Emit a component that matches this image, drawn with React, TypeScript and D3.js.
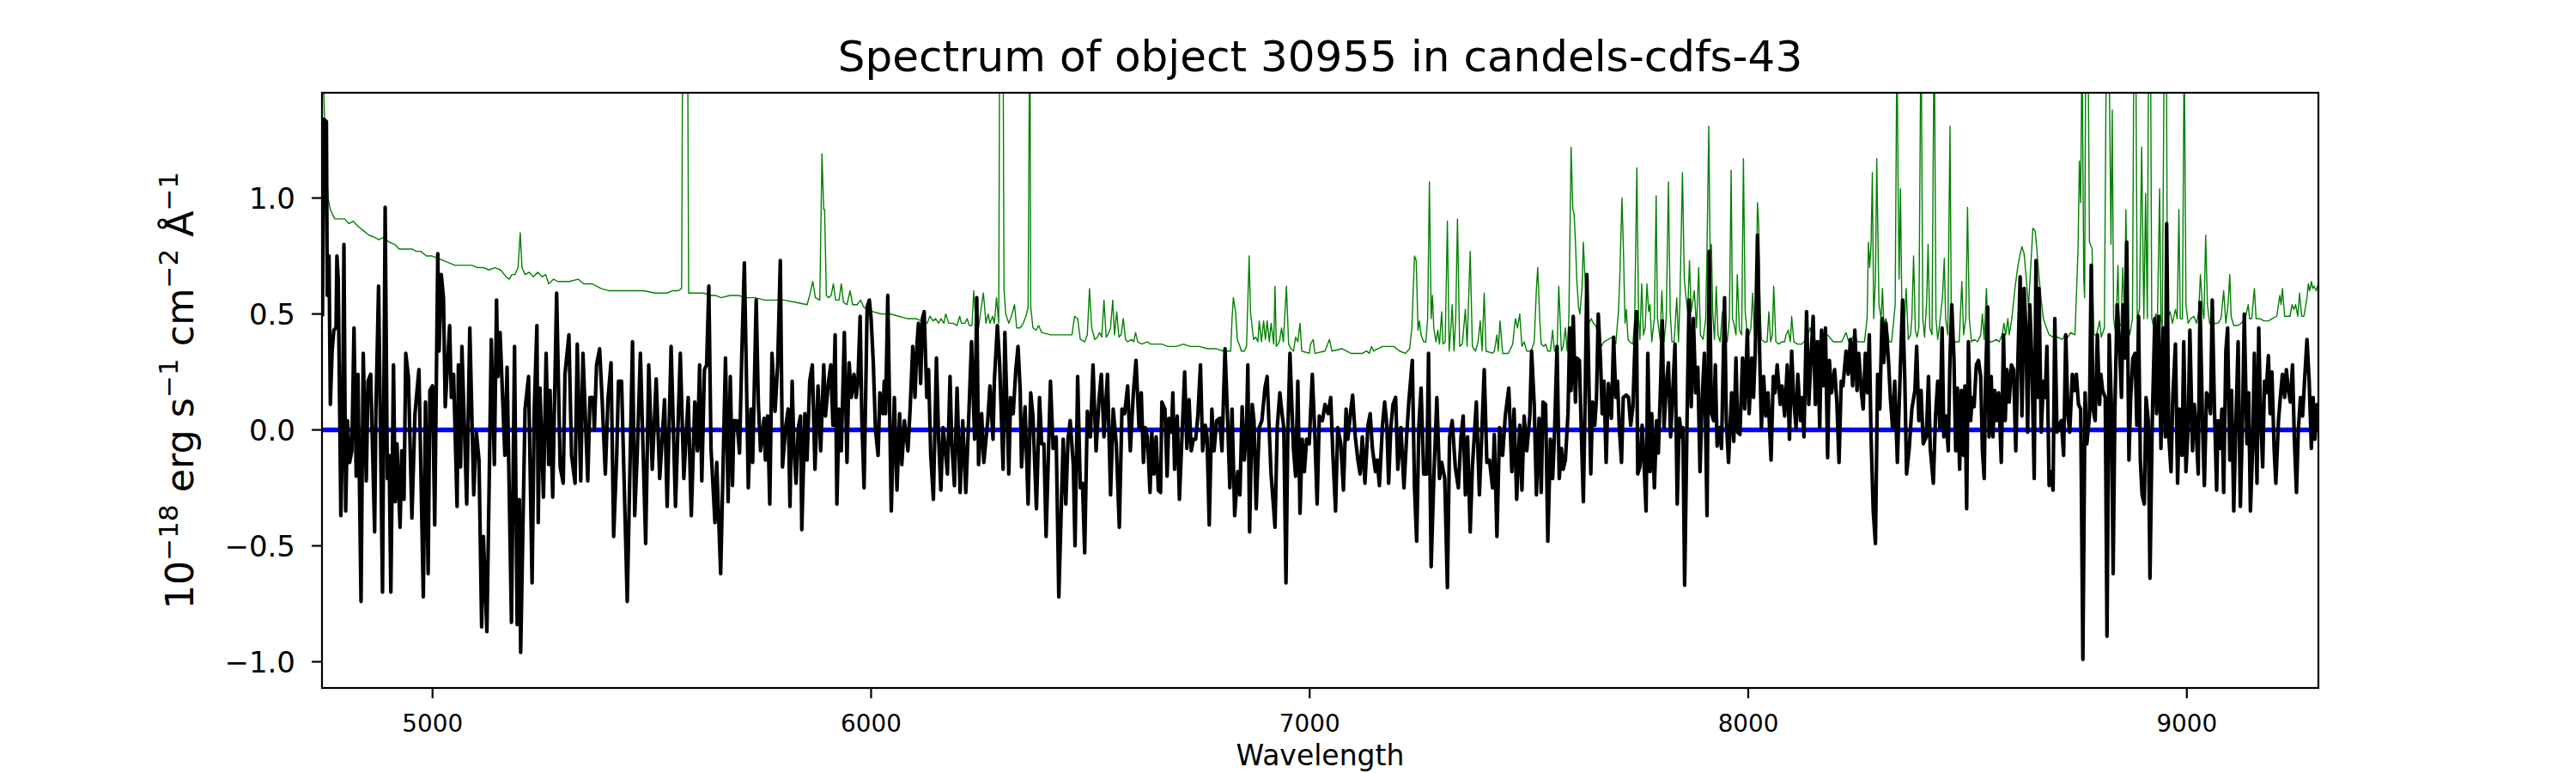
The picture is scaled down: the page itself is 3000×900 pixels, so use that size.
import React, { useEffect } from 'react';
import * as d3 from 'd3';

// Observed spectrum: [wavelength (Å), flux (1e-18 erg/s/cm2/Å)]
const spectrum: [number, number][] = [
[4749,0.49],[4752,1.34],[4758,1.33],[4760,0.58],[4764,0.75],[4767,0.11],[4771,0.34],[4775,0.43],[4780,0.44],[4782,0.75],
[4785,0.65],[4791,-0.37],[4795,0.02],[4798,0.80],[4802,-0.35],[4806,0.04],[4811,-0.14],[4816,-0.09],[4821,0.44],[4826,-0.20],
[4830,0.24],[4837,-0.74],[4842,0.33],[4849,-0.22],[4853,0.21],[4859,0.24],[4868,-0.44],[4871,0.09],[4877,0.62],[4886,-0.70],
[4892,0.96],[4897,-0.21],[4901,-0.11],[4905,-0.70],[4911,0.28],[4915,-0.31],[4919,-0.06],[4926,-0.42],[4930,-0.09],[4935,-0.30],
[4939,0.33],[4945,0.23],[4953,-0.38],[4960,0.07],[4969,0.26],[4979,-0.72],[4984,0.12],[4990,-0.62],[4994,0.17],[5000,0.19],
[5005,-0.41],[5012,0.76],[5015,0.34],[5020,0.67],[5025,0.57],[5029,0.10],[5039,0.45],[5043,0.14],[5048,0.24],[5056,-0.33],
[5059,0.28],[5064,-0.16],[5067,0.36],[5078,-0.32],[5085,0.44],[5094,-0.28],[5100,-0.01],[5106,-0.13],[5112,-0.85],[5116,-0.46],
[5124,-0.87],[5129,-0.25],[5134,0.39],[5141,-0.15],[5146,0.56],[5149,0.23],[5154,0.42],[5165,-0.11],[5170,0.27],[5180,-0.83],
[5187,0.36],[5193,-0.84],[5198,-0.30],[5201,-0.96],[5211,0.09],[5219,0.23],[5227,-0.66],[5232,0.09],[5238,0.45],[5241,-0.40],
[5245,0.18],[5253,-0.29],[5259,0.33],[5265,-0.15],[5268,0.17],[5274,-0.29],[5283,0.59],[5291,-0.16],[5298,-0.23],[5302,0.24],
[5311,0.41],[5317,-0.11],[5325,-0.23],[5330,0.37],[5338,-0.22],[5343,0.33],[5354,-0.22],[5359,0.14],[5366,0.14],[5369,0.00],
[5374,0.28],[5381,0.35],[5387,0.12],[5394,-0.19],[5400,0.13],[5407,0.29],[5413,-0.46],[5420,-0.11],[5424,0.21],[5431,0.21],
[5444,-0.74],[5456,0.38],[5461,-0.37],[5467,-0.09],[5474,0.33],[5486,-0.49],[5493,0.28],[5501,-0.17],[5510,0.22],[5518,-0.21],
[5529,0.13],[5535,-0.33],[5544,0.36],[5554,-0.33],[5565,0.33],[5573,-0.21],[5583,0.14],[5590,-0.37],[5598,0.12],[5604,-0.09],
[5609,0.28],[5614,-0.22],[5620,0.26],[5625,0.28],[5630,0.62],[5635,-0.08],[5644,-0.40],[5648,-0.14],[5657,-0.62],[5668,0.31],
[5674,-0.31],[5679,0.23],[5684,-0.24],[5687,0.04],[5694,0.04],[5700,-0.10],[5705,0.31],[5711,0.72],[5715,0.31],[5720,-0.25],
[5726,0.09],[5730,-0.14],[5738,0.56],[5743,0.11],[5748,-0.09],[5756,0.05],[5759,-0.13],[5764,0.06],[5769,-0.32],[5774,0.33],
[5781,0.08],[5787,0.28],[5793,0.73],[5798,-0.16],[5805,0.01],[5811,0.09],[5815,-0.33],[5820,0.21],[5824,-0.08],[5829,-0.23],
[5834,0.01],[5839,0.06],[5842,-0.43],[5849,0.07],[5854,-0.13],[5860,0.21],[5866,0.28],[5872,-0.17],[5879,0.19],[5885,-0.09],
[5892,0.28],[5896,0.06],[5903,0.21],[5908,0.28],[5913,0.02],[5918,0.41],[5922,-0.32],[5927,0.09],[5932,-0.09],[5939,0.42],
[5945,-0.14],[5950,0.29],[5955,0.14],[5961,0.24],[5966,0.14],[5970,0.21],[5975,0.49],[5979,0.04],[5984,-0.25],[5991,0.53],
[5996,0.56],[6000,0.48],[6005,0.29],[6010,0.00],[6016,-0.11],[6020,0.16],[6027,0.07],[6030,0.21],[6033,0.07],[6038,0.58],
[6046,-0.35],[6053,0.14],[6059,-0.26],[6065,0.07],[6070,-0.15],[6076,0.04],[6084,-0.09],[6089,0.09],[6095,0.36],[6100,0.14],
[6105,0.38],[6108,0.46],[6113,0.20],[6117,0.48],[6121,0.51],[6127,0.14],[6131,0.26],[6136,-0.11],[6142,-0.30],[6149,0.31],
[6154,-0.04],[6159,-0.26],[6164,0.01],[6168,-0.06],[6174,-0.19],[6180,0.23],[6184,-0.06],[6190,-0.24],[6196,0.18],[6203,-0.27],
[6209,0.04],[6216,-0.27],[6221,-0.03],[6229,0.38],[6236,-0.04],[6241,0.57],[6245,-0.15],[6252,0.07],[6257,-0.14],[6262,-0.04],
[6266,0.04],[6271,0.19],[6278,-0.04],[6281,0.21],[6288,0.45],[6293,0.29],[6301,-0.17],[6305,0.42],[6314,-0.19],[6318,0.14],
[6324,0.07],[6330,0.26],[6335,0.36],[6340,0.17],[6343,-0.16],[6351,0.10],[6358,-0.32],[6364,0.16],[6369,0.06],[6377,-0.34],
[6384,0.14],[6389,-0.06],[6394,-0.06],[6399,-0.46],[6409,0.21],[6415,-0.08],[6422,-0.03],[6428,-0.72],[6438,-0.04],[6444,-0.32],
[6449,-0.04],[6454,0.04],[6461,-0.15],[6465,-0.50],[6471,0.23],[6477,-0.25],[6482,-0.23],[6487,-0.53],[6493,0.08],[6500,-0.03],
[6506,0.28],[6513,-0.09],[6520,0.14],[6525,0.24],[6531,-0.03],[6539,0.24],[6546,-0.28],[6552,0.09],[6559,-0.06],[6566,-0.42],
[6572,0.09],[6578,0.07],[6585,0.19],[6591,-0.09],[6598,0.16],[6604,0.30],[6611,0.01],[6616,0.16],[6621,-0.14],[6625,0.01],
[6630,-0.03],[6636,-0.27],[6640,-0.01],[6645,-0.19],[6650,-0.03],[6655,-0.26],[6660,-0.27],[6663,0.12],[6670,0.09],[6675,-0.20],
[6679,0.05],[6685,-0.01],[6688,0.16],[6692,-0.17],[6698,0.06],[6703,-0.30],[6709,-0.02],[6715,0.25],[6720,-0.08],[6725,0.13],
[6730,-0.09],[6735,-0.04],[6740,-0.04],[6745,0.06],[6751,0.28],[6756,-0.09],[6762,0.02],[6766,-0.03],[6771,-0.41],[6777,0.09],
[6782,-0.09],[6788,0.04],[6795,0.05],[6800,-0.09],[6807,0.35],[6813,0.04],[6818,-0.25],[6823,0.09],[6829,-0.37],[6836,-0.18],
[6841,-0.28],[6846,0.10],[6851,-0.13],[6856,0.01],[6859,0.28],[6863,-0.44],[6869,0.11],[6873,0.04],[6878,-0.34],[6885,0.01],
[6891,0.04],[6898,0.18],[6903,0.23],[6908,-0.01],[6912,-0.19],[6921,-0.42],[6926,0.01],[6932,0.16],[6937,0.07],[6941,0.01],
[6946,-0.66],[6950,-0.03],[6955,0.33],[6963,-0.08],[6968,-0.20],[6973,0.21],[6978,-0.36],[6983,-0.04],[6988,-0.18],[6993,-0.04],
[6999,-0.06],[7006,0.24],[7012,-0.03],[7017,-0.32],[7022,0.06],[7029,0.04],[7035,0.11],[7042,0.07],[7048,0.14],[7053,-0.11],
[7059,-0.35],[7064,0.01],[7071,-0.06],[7077,-0.26],[7083,0.09],[7087,-0.04],[7094,0.09],[7098,0.15],[7104,-0.03],[7110,-0.13],
[7115,-0.19],[7120,-0.03],[7126,-0.23],[7133,0.02],[7138,0.07],[7143,-0.08],[7150,-0.18],[7154,-0.13],[7159,-0.24],[7166,0.02],
[7171,0.12],[7176,0.02],[7180,-0.23],[7185,0.01],[7190,0.11],[7196,0.14],[7201,-0.17],[7208,0.01],[7215,-0.25],[7221,-0.03],
[7226,0.12],[7234,0.30],[7239,-0.25],[7244,-0.48],[7249,0.02],[7254,0.18],[7260,-0.19],[7267,-0.19],[7271,0.33],[7277,-0.59],
[7283,-0.21],[7290,0.14],[7296,-0.21],[7301,-0.14],[7308,-0.21],[7314,-0.68],[7319,-0.03],[7325,0.04],[7332,-0.16],[7339,-0.25],
[7345,-0.03],[7350,0.06],[7355,-0.28],[7360,-0.03],[7366,-0.44],[7371,-0.16],[7380,0.12],[7387,-0.28],[7393,0.01],[7398,0.26],
[7404,-0.14],[7410,-0.13],[7417,-0.25],[7421,-0.02],[7427,-0.46],[7433,0.01],[7440,-0.11],[7446,0.06],[7454,0.18],[7461,-0.18],
[7466,0.09],[7472,-0.30],[7479,0.02],[7484,-0.26],[7489,0.06],[7495,-0.09],[7502,0.06],[7506,0.34],[7512,0.11],[7517,-0.28],
[7523,0.05],[7528,-0.27],[7532,0.12],[7538,0.11],[7543,-0.48],[7549,-0.04],[7554,-0.21],[7558,-0.03],[7564,0.36],[7569,-0.21],
[7574,-0.08],[7578,-0.17],[7583,-0.13],[7589,0.07],[7593,0.44],[7596,0.17],[7601,0.49],[7606,0.12],[7609,0.31],[7615,0.30],
[7619,0.02],[7624,-0.31],[7628,0.12],[7632,0.67],[7637,0.17],[7641,-0.19],[7645,0.12],[7650,0.02],[7654,0.14],[7658,0.50],
[7663,0.31],[7667,0.07],[7671,0.21],[7676,-0.14],[7681,0.20],[7688,0.05],[7693,0.40],[7698,0.14],[7702,0.21],[7706,0.01],
[7711,-0.14],[7715,0.14],[7722,0.15],[7727,0.14],[7732,0.02],[7737,0.10],[7741,0.33],[7745,0.51],[7748,-0.19],[7753,-0.16],
[7758,0.02],[7763,-0.17],[7767,-0.35],[7771,0.33],[7776,-0.18],[7780,0.07],[7786,-0.25],[7791,0.04],[7795,-0.10],[7800,0.19],
[7804,0.47],[7808,0.01],[7813,0.19],[7818,0.29],[7823,-0.03],[7828,0.17],[7833,0.37],[7838,-0.32],[7843,0.05],[7848,-0.03],
[7851,0.01],[7855,-0.67],[7861,0.11],[7865,0.56],[7870,0.10],[7875,0.48],[7880,0.16],[7885,0.27],[7890,-0.18],[7895,0.14],
[7900,0.33],[7906,-0.37],[7911,0.77],[7916,0.07],[7921,0.04],[7925,0.28],[7929,-0.07],[7934,0.01],[7939,-0.08],[7946,0.57],
[7950,0.04],[7955,-0.14],[7962,0.16],[7967,-0.05],[7972,0.31],[7976,-0.01],[7981,-0.02],[7987,0.31],[7992,0.09],[7998,0.43],
[8002,0.07],[8008,0.31],[8012,0.14],[8016,0.34],[8021,0.84],[8026,0.33],[8030,0.01],[8035,0.23],[8040,0.06],[8045,0.16],
[8052,-0.13],[8057,0.23],[8061,0.16],[8066,0.28],[8073,0.11],[8077,0.19],[8083,0.06],[8089,0.28],[8094,-0.04],[8099,0.34],
[8104,0.12],[8109,0.01],[8113,0.24],[8119,0.04],[8123,0.14],[8127,-0.03],[8133,0.51],[8138,0.11],[8143,0.31],[8148,0.49],
[8153,0.11],[8158,0.38],[8163,0.01],[8167,0.43],[8172,0.19],[8176,0.44],[8181,-0.12],[8185,0.30],[8190,0.16],[8197,0.26],
[8202,0.12],[8207,-0.14],[8212,0.21],[8216,0.19],[8223,0.34],[8228,0.24],[8233,0.39],[8238,0.19],[8243,0.43],[8248,0.17],
[8252,0.33],[8258,0.16],[8262,0.09],[8267,0.33],[8272,0.16],[8276,0.41],[8280,-0.03],[8285,-0.35],[8290,-0.49],[8295,0.24],
[8300,0.09],[8305,0.48],[8309,0.29],[8314,0.46],[8320,0.29],[8324,0.14],[8329,0.01],[8334,0.21],[8340,-0.14],[8347,0.28],
[8352,0.56],[8357,0.21],[8361,-0.19],[8367,-0.08],[8373,0.09],[8380,0.17],[8384,0.36],[8389,0.04],[8394,0.17],[8399,-0.06],
[8406,-0.03],[8411,0.23],[8415,-0.08],[8422,-0.23],[8427,0.06],[8432,0.21],[8437,0.01],[8442,0.44],[8446,-0.03],[8451,0.06],
[8456,-0.09],[8460,0.31],[8464,0.54],[8469,0.31],[8473,-0.09],[8477,0.18],[8482,-0.17],[8486,0.17],[8491,-0.11],[8494,0.19],
[8498,-0.34],[8502,0.38],[8507,0.04],[8511,0.14],[8515,0.10],[8520,0.28],[8525,0.30],[8530,0.23],[8534,-0.09],[8538,-0.21],
[8541,0.21],[8546,0.53],[8549,-0.03],[8554,0.23],[8558,-0.03],[8562,0.17],[8567,0.04],[8571,0.16],[8577,-0.14],[8582,0.41],
[8586,0.04],[8590,0.26],[8595,0.12],[8600,0.28],[8605,0.26],[8610,-0.09],[8615,0.31],[8620,0.66],[8624,0.06],[8629,0.61],
[8633,0.44],[8637,-0.01],[8642,0.54],[8647,0.28],[8652,-0.21],[8656,0.73],[8660,0.14],[8663,0.61],[8668,-0.01],[8673,0.21],
[8677,0.14],[8681,0.36],[8686,-0.24],[8691,-0.18],[8695,-0.26],[8699,0.48],[8704,-0.01],[8709,0.02],[8714,0.04],[8719,-0.11],
[8724,0.41],[8729,0.06],[8733,-0.01],[8739,0.24],[8744,0.17],[8748,0.24],[8753,0.11],[8758,0.09],[8763,-0.99],[8768,0.16],
[8772,-0.06],[8778,0.06],[8782,0.71],[8786,0.09],[8791,0.04],[8796,0.41],[8801,0.11],[8804,0.24],[8808,0.17],[8814,0.14],
[8818,-0.89],[8823,0.41],[8828,0.11],[8832,-0.62],[8836,0.09],[8841,0.54],[8846,0.39],[8851,0.14],[8855,0.54],[8859,0.31],
[8863,0.81],[8868,-0.13],[8872,0.14],[8877,0.31],[8882,0.33],[8886,0.02],[8890,0.49],[8894,-0.13],[8898,-0.28],[8903,-0.32],
[8907,0.14],[8912,0.04],[8916,-0.64],[8921,0.02],[8927,0.48],[8931,0.07],[8936,0.49],[8941,-0.08],[8946,0.44],[8951,-0.03],
[8954,0.89],[8959,-0.03],[8964,-0.18],[8968,0.14],[8974,0.37],[8979,-0.23],[8983,0.09],[8989,-0.11],[8993,0.38],[8998,-0.18],
[9003,0.01],[9007,0.43],[9013,-0.09],[9017,0.11],[9021,0.01],[9026,-0.19],[9030,0.55],[9036,0.01],[9040,-0.24],[9045,0.16],
[9050,0.14],[9054,0.07],[9058,0.56],[9063,0.09],[9068,-0.26],[9071,0.04],[9075,-0.08],[9080,0.09],[9084,-0.27],[9089,0.34],
[9093,0.44],[9098,-0.13],[9102,0.17],[9107,-0.35],[9112,0.04],[9117,0.38],[9122,-0.33],[9127,0.04],[9131,0.50],[9137,-0.06],
[9141,0.16],[9145,-0.35],[9150,-0.08],[9154,0.33],[9160,-0.23],[9164,0.44],[9168,0.07],[9173,-0.16],[9177,0.21],[9181,0.16],
[9186,0.32],[9190,0.07],[9194,0.25],[9199,-0.08],[9203,-0.23],[9209,0.04],[9214,0.16],[9218,0.24],[9223,0.14],[9227,0.26],
[9231,0.18],[9236,0.12],[9241,0.28],[9245,-0.03],[9250,-0.27],[9254,-0.01],[9259,0.14],[9264,0.06],[9269,0.23],[9274,0.39],
[9279,0.21],[9284,-0.08],[9288,0.14],[9292,-0.04],[9297,0.11],[9301,-0.01]
];

// Error / sky spectrum: [wavelength (Å), flux]
const skyError: [number, number][] = [
[4749,1.70],[4754,1.32],[4757,1.15],[4762,1.00],[4767,0.95],[4777,0.91],[4790,0.91],[4800,0.91],[4809,0.89],[4819,0.90],
[4829,0.88],[4842,0.86],[4855,0.84],[4868,0.83],[4878,0.82],[4888,0.83],[4901,0.81],[4914,0.80],[4924,0.78],[4933,0.78],
[4953,0.78],[4963,0.77],[4973,0.77],[4986,0.75],[4999,0.75],[5012,0.74],[5025,0.73],[5038,0.72],[5051,0.71],[5064,0.71],
[5077,0.71],[5090,0.71],[5103,0.70],[5116,0.70],[5129,0.69],[5142,0.70],[5155,0.69],[5168,0.66],[5175,0.65],[5181,0.67],
[5188,0.67],[5195,0.70],[5200,0.85],[5204,0.70],[5211,0.67],[5221,0.68],[5230,0.66],[5240,0.68],[5250,0.66],[5258,0.67],
[5265,0.63],[5276,0.65],[5286,0.64],[5299,0.64],[5312,0.64],[5332,0.65],[5345,0.63],[5364,0.63],[5384,0.61],[5403,0.60],
[5430,0.60],[5456,0.60],[5482,0.60],[5508,0.59],[5534,0.59],[5547,0.60],[5560,0.60],[5568,0.61],[5572,2.50],[5580,2.50],
[5584,0.59],[5593,0.59],[5606,0.59],[5619,0.59],[5632,0.58],[5645,0.58],[5658,0.57],[5678,0.58],[5697,0.58],[5717,0.57],
[5736,0.57],[5756,0.56],[5782,0.56],[5802,0.56],[5828,0.55],[5854,0.54],[5860,0.58],[5867,0.64],[5873,0.57],[5883,0.56],
[5888,1.19],[5892,0.95],[5894,0.95],[5898,0.58],[5903,0.57],[5909,0.58],[5914,0.63],[5919,0.56],[5927,0.56],[5932,0.63],
[5937,0.55],[5945,0.54],[5952,0.60],[5958,0.54],[5968,0.54],[5976,0.56],[5983,0.53],[5991,0.52],[6004,0.51],[6023,0.50],
[6043,0.50],[6063,0.49],[6082,0.48],[6102,0.48],[6115,0.47],[6128,0.46],[6134,0.49],[6141,0.47],[6147,0.48],[6154,0.46],
[6159,0.48],[6166,0.46],[6170,0.50],[6177,0.46],[6187,0.46],[6196,0.45],[6202,0.49],[6206,0.46],[6214,0.46],[6219,0.48],
[6224,0.45],[6230,0.45],[6234,0.60],[6239,0.46],[6245,0.44],[6252,0.54],[6256,0.59],[6262,0.46],[6267,0.50],[6271,0.46],
[6277,0.49],[6281,0.46],[6286,0.57],[6291,0.46],[6294,2.20],[6300,2.20],[6303,0.61],[6307,0.50],[6314,0.46],[6320,0.49],
[6327,0.54],[6332,0.44],[6340,0.44],[6347,0.46],[6353,0.49],[6358,0.53],[6362,1.90],[6364,0.53],[6369,0.44],[6376,0.43],
[6382,0.45],[6389,0.42],[6409,0.41],[6425,0.41],[6448,0.41],[6458,0.41],[6464,0.49],[6471,0.48],[6477,0.39],[6487,0.38],
[6493,0.41],[6498,0.61],[6503,0.44],[6510,0.39],[6516,0.40],[6521,0.42],[6526,0.40],[6531,0.56],[6536,0.40],[6540,0.41],
[6546,0.44],[6551,0.56],[6555,0.41],[6560,0.51],[6565,0.40],[6570,0.41],[6575,0.48],[6580,0.39],[6585,0.38],[6594,0.39],
[6599,0.38],[6603,0.42],[6608,0.38],[6617,0.37],[6630,0.38],[6637,0.37],[6663,0.37],[6676,0.36],[6696,0.36],[6712,0.37],
[6728,0.36],[6748,0.36],[6767,0.35],[6787,0.35],[6803,0.34],[6820,0.34],[6823,0.48],[6826,0.57],[6831,0.51],[6835,0.39],
[6841,0.36],[6844,0.34],[6851,0.34],[6856,0.36],[6862,0.75],[6865,0.51],[6872,0.39],[6877,0.40],[6882,0.38],[6885,0.47],
[6890,0.38],[6895,0.47],[6899,0.39],[6903,0.47],[6908,0.38],[6912,0.46],[6918,0.37],[6921,0.62],[6924,0.36],[6931,0.38],
[6936,0.44],[6940,0.38],[6947,0.62],[6952,0.37],[6957,0.35],[6963,0.34],[6968,0.40],[6973,0.38],[6978,0.46],[6982,0.34],
[6999,0.33],[7002,0.37],[7008,0.39],[7012,0.33],[7035,0.34],[7045,0.39],[7051,0.34],[7074,0.35],[7094,0.33],[7120,0.33],
[7130,0.34],[7136,0.33],[7141,0.36],[7146,0.34],[7166,0.36],[7179,0.36],[7192,0.36],[7205,0.34],[7218,0.33],[7228,0.35],
[7233,0.44],[7239,0.75],[7243,0.73],[7247,0.43],[7250,0.47],[7254,0.41],[7260,0.38],[7265,0.38],[7269,0.48],[7273,1.07],
[7277,0.48],[7280,0.58],[7283,0.44],[7288,0.38],[7292,0.43],[7296,0.37],[7301,0.51],[7304,0.37],[7309,0.38],[7314,0.90],
[7318,0.34],[7322,0.44],[7325,0.54],[7329,0.34],[7333,0.48],[7337,0.91],[7342,0.36],[7348,0.37],[7355,0.52],[7359,0.36],
[7366,0.77],[7371,0.36],[7378,0.34],[7384,0.38],[7389,0.47],[7393,0.34],[7398,0.59],[7402,0.34],[7417,0.33],[7421,0.34],
[7427,0.41],[7430,0.34],[7434,0.47],[7440,0.33],[7453,0.33],[7463,0.37],[7469,0.48],[7474,0.44],[7479,0.50],[7484,0.36],
[7489,0.38],[7495,0.34],[7505,0.34],[7512,0.38],[7517,0.61],[7520,0.70],[7525,0.46],[7528,0.37],[7534,0.36],[7538,0.37],
[7543,0.34],[7549,0.34],[7554,0.43],[7558,0.34],[7564,0.34],[7568,0.62],[7574,0.34],[7578,0.36],[7583,0.44],[7587,0.34],
[7591,0.48],[7596,1.22],[7600,0.95],[7603,0.93],[7606,0.81],[7609,0.65],[7613,0.53],[7616,0.50],[7621,0.61],[7624,0.81],
[7629,0.61],[7632,0.48],[7637,0.46],[7642,0.48],[7647,0.46],[7652,0.45],[7658,0.41],[7665,0.36],[7671,0.38],[7681,0.39],
[7691,0.40],[7698,0.37],[7704,0.51],[7707,0.65],[7712,1.00],[7715,0.81],[7719,0.46],[7722,0.52],[7726,0.39],[7730,0.38],
[7737,0.37],[7741,0.48],[7746,1.13],[7750,0.48],[7753,0.39],[7757,0.63],[7761,0.41],[7765,0.44],[7769,0.63],[7773,0.51],
[7776,0.54],[7780,0.38],[7786,0.48],[7790,1.01],[7793,0.48],[7799,0.39],[7803,0.60],[7808,0.38],[7813,0.48],[7818,1.07],
[7822,0.51],[7826,0.38],[7831,0.38],[7837,0.57],[7841,0.38],[7844,0.54],[7850,1.11],[7854,0.66],[7857,0.59],[7862,0.51],
[7866,0.73],[7870,0.51],[7877,0.60],[7882,0.44],[7887,0.70],[7891,0.41],[7897,0.39],[7903,0.48],[7906,0.78],[7910,1.31],
[7913,0.76],[7916,0.80],[7919,0.51],[7923,0.39],[7927,0.62],[7931,0.41],[7936,0.38],[7941,0.51],[7946,0.44],[7952,0.38],
[7957,0.48],[7961,1.12],[7964,0.48],[7967,0.46],[7972,0.41],[7975,0.67],[7980,0.43],[7985,0.41],[7989,1.17],[7993,0.51],
[7998,0.41],[8002,0.41],[8006,0.44],[8010,0.59],[8014,0.41],[8017,0.39],[8021,0.98],[8024,0.88],[8027,0.52],[8030,0.39],
[8037,0.38],[8043,0.38],[8047,0.51],[8051,0.38],[8055,0.41],[8058,0.62],[8063,0.38],[8070,0.37],[8076,0.38],[8083,0.38],
[8086,0.41],[8091,0.43],[8096,0.38],[8099,0.49],[8104,0.38],[8112,0.37],[8122,0.37],[8132,0.39],[8141,0.44],[8148,0.39],
[8161,0.38],[8167,0.40],[8181,0.41],[8194,0.38],[8207,0.38],[8213,0.38],[8223,0.42],[8229,0.38],[8243,0.41],[8249,0.38],
[8265,0.38],[8271,0.48],[8274,0.81],[8277,0.70],[8280,0.80],[8283,1.11],[8286,0.48],[8290,0.65],[8293,1.17],[8298,0.54],
[8303,0.48],[8306,0.61],[8309,0.46],[8314,0.48],[8321,0.38],[8327,0.38],[8335,0.54],[8339,1.70],[8342,0.98],[8344,0.65],
[8347,1.04],[8350,0.56],[8355,0.41],[8360,0.61],[8365,0.39],[8370,0.41],[8373,0.48],[8377,0.75],[8381,0.43],[8385,0.40],
[8389,0.44],[8394,1.80],[8398,0.48],[8402,0.40],[8407,0.56],[8410,0.80],[8414,0.44],[8419,0.41],[8424,1.80],[8428,0.48],
[8432,0.39],[8438,0.48],[8443,0.58],[8447,0.74],[8450,0.48],[8455,0.41],[8460,1.31],[8463,0.48],[8468,0.38],[8474,0.38],
[8481,0.38],[8487,0.64],[8491,0.41],[8496,0.48],[8500,0.96],[8504,0.48],[8509,0.38],[8515,0.39],[8523,0.38],[8530,0.41],
[8534,0.50],[8538,0.39],[8543,0.61],[8548,0.38],[8556,0.38],[8566,0.39],[8572,0.38],[8579,0.41],[8583,0.46],[8587,0.41],
[8592,0.48],[8595,0.41],[8601,0.48],[8608,0.61],[8615,0.71],[8620,0.76],[8624,0.79],[8629,0.76],[8634,0.65],[8639,0.53],
[8644,0.70],[8649,0.87],[8654,0.86],[8658,0.78],[8663,0.66],[8668,0.56],[8673,0.48],[8680,0.44],[8686,0.41],[8696,0.40],
[8706,0.40],[8716,0.39],[8722,0.41],[8729,0.40],[8735,0.42],[8745,0.41],[8752,0.78],[8755,1.16],[8758,0.98],[8761,1.70],
[8765,0.65],[8767,0.57],[8770,1.90],[8774,1.90],[8778,0.81],[8784,0.78],[8788,0.41],[8794,0.41],[8801,0.47],[8805,0.40],
[8812,0.44],[8817,1.80],[8822,1.80],[8827,0.80],[8830,1.38],[8833,0.48],[8838,0.41],[8843,0.71],[8846,0.44],[8850,0.46],
[8854,0.70],[8858,0.48],[8861,0.95],[8865,0.48],[8870,0.41],[8876,0.48],[8880,1.90],[8883,1.90],[8887,0.48],[8892,0.52],
[8897,1.22],[8902,0.48],[8906,1.02],[8910,0.48],[8913,1.80],[8917,1.80],[8920,0.48],[8925,0.44],[8929,0.50],[8933,0.48],
[8938,1.04],[8941,0.48],[8944,0.44],[8949,1.80],[8953,1.80],[8956,0.48],[8962,0.51],[8967,0.46],[8974,0.52],[8978,0.48],
[8982,0.95],[8985,0.48],[8990,0.48],[8994,1.70],[8998,0.54],[9003,0.46],[9009,0.48],[9016,0.49],[9022,0.46],[9027,0.51],
[9031,0.67],[9036,0.52],[9039,0.48],[9043,0.84],[9047,0.54],[9052,0.46],[9058,0.45],[9065,0.46],[9071,0.46],[9078,0.48],
[9084,0.60],[9089,0.46],[9094,0.54],[9098,0.67],[9101,0.49],[9107,0.45],[9117,0.45],[9124,0.46],[9133,0.48],[9140,0.54],
[9143,0.48],[9148,0.48],[9154,0.61],[9158,0.48],[9166,0.48],[9176,0.47],[9186,0.47],[9195,0.48],[9205,0.49],[9212,0.58],
[9215,0.54],[9218,0.61],[9223,0.49],[9235,0.49],[9240,0.54],[9244,0.52],[9248,0.54],[9253,0.49],[9257,0.59],[9262,0.49],
[9267,0.49],[9274,0.57],[9277,0.63],[9280,0.60],[9284,0.64],[9287,0.61],[9290,0.62],[9295,0.60],[9300,0.63]
];

const zeroLevel = 0;
const xDomain: [number, number] = [4748, 9300];
const yDomain: [number, number] = [-1.113, 1.454];
const xTicks = [5000, 6000, 7000, 8000, 9000];
const yTicks = [-1.0, -0.5, 0.0, 0.5, 1.0];
const titleText = 'Spectrum of object 30955 in candels-cdfs-43';
const xLabelText = 'Wavelength';

const FONT = "'DejaVu Sans', sans-serif";

export default function App() {
  useEffect(() => {
    document.body.style.margin = '0';
  }, []);

  const W = 3000;
  const H = 900;
  const left = 375, right = 2700, top = 108, bottom = 801;

  const x = d3.scaleLinear().domain(xDomain).range([left, right]);
  const y = d3.scaleLinear().domain(yDomain).range([bottom, top]);

  const line = d3
    .line<[number, number]>()
    .x((d) => x(d[0]))
    .y((d) => y(d[1]));

  const fmtY = (v: number) => {
    const s = d3.format('.1f')(Math.abs(v));
    return v < 0 ? '\u2212' + s : s;
  };

  const cx = (left + right) / 2;
  const cy = (top + bottom) / 2;

  return (
    <svg
      width={W}
      height={H}
      viewBox={`0 0 ${W} ${H}`}
      style={{ position: 'absolute', left: 0, top: 0, background: '#fff', display: 'block' }}
      fontFamily={FONT}
    >
      <rect x={0} y={0} width={W} height={H} fill="#ffffff" />
      <defs>
        <clipPath id="plotClip">
          <rect x={left} y={top} width={right - left} height={bottom - top} />
        </clipPath>
      </defs>

      <g clipPath="url(#plotClip)">
        <line
          x1={x(xDomain[0])}
          x2={x(xDomain[1])}
          y1={y(zeroLevel)}
          y2={y(zeroLevel)}
          stroke="#0000ff"
          strokeWidth={5.5}
        />
        <path d={line(skyError) || ''} fill="none" stroke="#008000" strokeWidth={1.4} strokeLinejoin="round" />
        <path d={line(spectrum) || ''} fill="none" stroke="#000000" strokeWidth={4.2} strokeLinejoin="round" />
      </g>

      {/* spines */}
      <rect x={left} y={top} width={right - left} height={bottom - top} fill="none" stroke="#000" strokeWidth={2.2} />

      {/* x ticks */}
      {xTicks.map((t) => (
        <g key={'x' + t}>
          <line x1={x(t)} x2={x(t)} y1={bottom} y2={bottom + 12} stroke="#000" strokeWidth={2.2} />
          <text x={x(t)} y={852} textAnchor="middle" fontSize={27.8} fill="#000">
            {String(t)}
          </text>
        </g>
      ))}

      {/* y ticks */}
      {yTicks.map((t) => (
        <g key={'y' + t}>
          <line x1={left - 12} x2={left} y1={y(t)} y2={y(t)} stroke="#000" strokeWidth={2.2} />
          <text x={344} y={y(t) + 12.5} textAnchor="end" fontSize={34} fill="#000">
            {fmtY(t)}
          </text>
        </g>
      ))}

      {/* title */}
      <text x={cx} y={83} textAnchor="middle" fontSize={50} fill="#000">
        {titleText}
      </text>

      {/* x label */}
      <text x={cx} y={891} textAnchor="middle" fontSize={33} fill="#000">
        {xLabelText}
      </text>

      {/* y label */}
      <text transform={`translate(225, ${cy}) rotate(-90)`} textAnchor="middle" fontSize={44.4} fill="#000">
        <tspan>10</tspan>
        <tspan dy={-18} fontSize={31}>{'\u221218'}</tspan>
        <tspan dy={18}>{' erg s'}</tspan>
        <tspan dy={-18} fontSize={31}>{'\u22121'}</tspan>
        <tspan dy={18}>{' cm'}</tspan>
        <tspan dy={-18} fontSize={31}>{'\u22122'}</tspan>
        <tspan dy={18}>{' \u00C5'}</tspan>
        <tspan dy={-18} fontSize={31}>{'\u22121'}</tspan>
      </text>
    </svg>
  );
}
